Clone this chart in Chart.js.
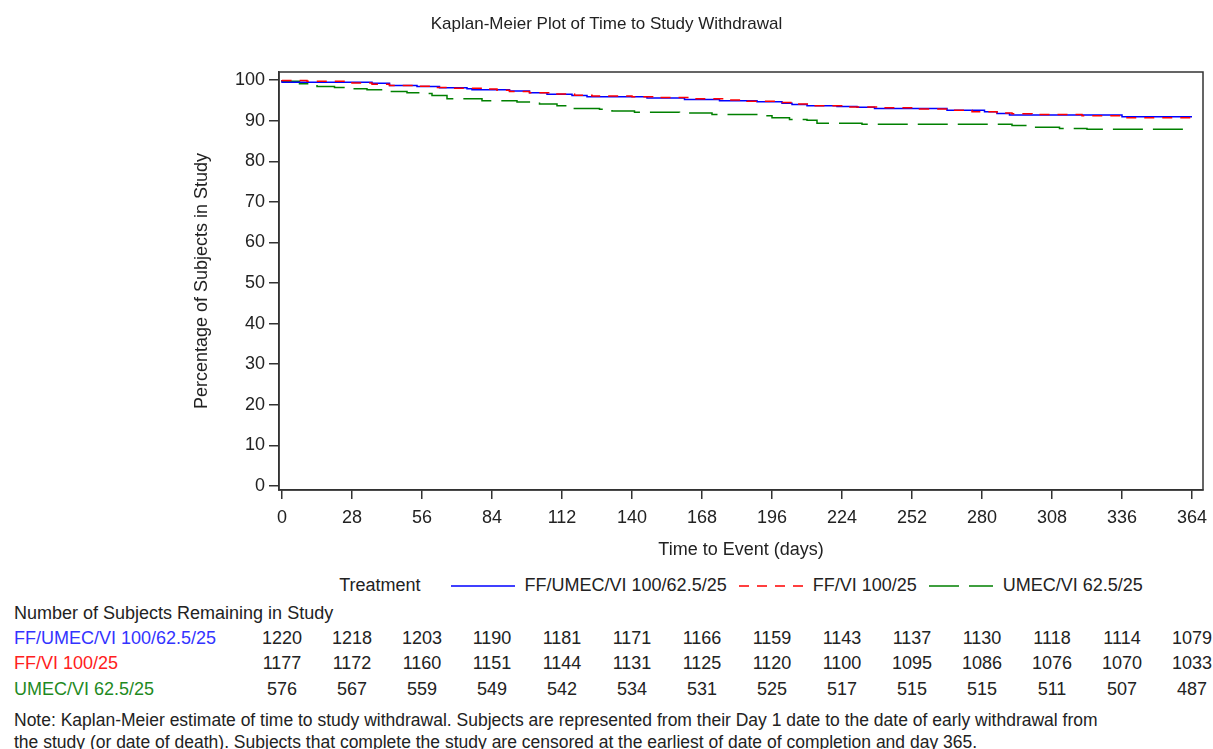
<!DOCTYPE html>
<html>
<head>
<meta charset="utf-8">
<script src="https://cdn.jsdelivr.net/npm/chart.js@4.4.1/dist/chart.umd.min.js"></script>
<style>
  body { margin: 0; background: #fff; overflow: hidden; font-family: 'Liberation Sans', Arial, sans-serif; color: #222; }
  #wrap { position: relative; width: 1213px; height: 749px; }
  #km { position: absolute; left: 0; top: 0; }
  #title { position: absolute; left: 0; width: 1213px; top: 13px; text-align: center; font-size: 17px; line-height: 22px; }
  .txt { position: absolute; font-size: 18px; line-height: 22px; white-space: nowrap; }
  .num { transform: translateX(-50%); }
  .note { font-size: 17.5px; }
  #legend { position: absolute; left: 279px; width: 924px; top: 575px; display: flex; justify-content: center; align-items: center; font-size: 18px; white-space: nowrap; }
  #legend svg { margin: 0 10px 0 12px; }
</style>
</head>
<body>
<div id="wrap">
  <canvas id="km" width="1213" height="562"></canvas>
  <div id="title">Kaplan-Meier Plot of Time to Study Withdrawal</div>
  <div id="legend"></div>
  <div id="table"></div>
</div>
<script>
const xTicks = [0, 28, 56, 84, 112, 140, 168, 196, 224, 252, 280, 308, 336, 364];
const yTicks = [0, 10, 20, 30, 40, 50, 60, 70, 80, 90, 100];
const groups = ["FF/UMEC/VI 100/62.5/25", "FF/VI 100/25", "UMEC/VI 62.5/25"];

// Kaplan-Meier steps (day, % remaining)
const blueDays = [0, 36, 43, 54, 63, 74, 76, 91, 99, 106, 116, 122, 146, 161, 175, 190, 200, 204, 210, 222, 230, 237, 266, 281, 286, 291, 336, 352, 364];
const blueSurv = [100, 99.5, 99.2, 98.7, 98.4, 98.1, 97.9, 97.6, 97.3, 96.9, 96.5, 96.2, 95.9, 95.6, 95.2, 94.9, 94.7, 94.3, 94.0, 93.7, 93.5, 93.3, 93.0, 92.6, 92.2, 91.8, 91.4, 91.0, 91.0];
const redDays = [0, 10, 28, 36, 43, 54, 60, 66, 80, 86, 91, 99, 108, 117, 124, 140, 150, 163, 177, 186, 198, 204, 212, 225, 240, 255, 268, 276, 286, 292, 300, 320, 335, 350, 364];
const redSurv = [100, 99.9, 99.7, 99.3, 99.0, 98.7, 98.5, 98.2, 98.0, 97.8, 97.5, 97.2, 96.9, 96.6, 96.3, 96.1, 95.9, 95.7, 95.4, 95.1, 94.8, 94.5, 94.1, 93.7, 93.4, 93.2, 92.9, 92.6, 92.2, 91.9, 91.7, 91.5, 91.2, 90.7, 90.7];
const greenDays = [0, 7, 14, 21, 28, 34, 42, 50, 57, 60, 66, 80, 94, 103, 110, 114, 127, 132, 141, 159, 172, 191, 196, 203, 210, 214, 232, 292, 300, 311, 322, 348, 364];
const greenSurv = [100, 99.7, 99.1, 98.4, 98.2, 97.9, 97.6, 97.2, 96.9, 96.7, 96.2, 95.4, 94.9, 94.6, 94.1, 93.7, 93.0, 92.8, 92.4, 92.1, 91.9, 91.5, 91.2, 90.7, 90.3, 90.1, 89.4, 89.1, 88.8, 88.4, 88.1, 87.9, 87.9];

const atRiskBlue = [1220, 1218, 1203, 1190, 1181, 1171, 1166, 1159, 1143, 1137, 1130, 1118, 1114, 1079];
const atRiskRed = [1177, 1172, 1160, 1151, 1144, 1131, 1125, 1120, 1100, 1095, 1086, 1076, 1070, 1033];
const atRiskGreen = [576, 567, 559, 549, 542, 534, 531, 525, 517, 515, 515, 511, 507, 487];

const lineColors = ["#0000ff", "#ff0000", "#008000"];
const textColors = ["#3333ff", "#ff2020", "#1f8a1f"];
const dashes = [[], [10, 8], [30, 10]];
const fontFamily = "'Liberation Sans', Arial, sans-serif";

function pts(days, surv) {
    return days.map((d, i) => ({x: d, y: surv[i]}));
}

const frame = {
    id: "frame",
    afterDraw(chart) {
        const {ctx, chartArea: a} = chart;
        ctx.save();
        ctx.strokeStyle = "#333";
        ctx.lineWidth = 1.5;
        ctx.strokeRect(a.left, a.top, a.right - a.left, a.bottom - a.top);
        ctx.restore();
    }
};

const chart = new Chart("km", {
    type: "line",
    data: {
        datasets: [
            {label: groups[0], data: pts(blueDays, blueSurv), borderColor: lineColors[0], borderDash: dashes[0], order: 1},
            {label: groups[1], data: pts(redDays, redSurv), borderColor: lineColors[1], borderDash: dashes[1], order: 0},
            {label: groups[2], data: pts(greenDays, greenSurv), borderColor: lineColors[2], borderDash: dashes[2], order: 2},
        ].map(d => Object.assign(d, {stepped: "after", pointRadius: 0, borderWidth: 1.5, fill: false})),
    },
    options: {
        responsive: false,
        animation: false,
        events: [],
        layout: { padding: { left: 187, right: 10, top: 72, bottom: 0 } },
        plugins: {
            legend: { display: false },
            tooltip: { enabled: false },
        },
        scales: {
            x: {
                type: "linear",
                min: -1.2,
                max: 368.4,
                afterBuildTicks: s => { s.ticks = xTicks.map(v => ({value: v})); },
                afterFit: s => { s.height = 72; s.paddingLeft = 0; s.paddingRight = 0; },
                grid: { drawOnChartArea: false, tickLength: 9, color: "#333", lineWidth: 1.5 },
                border: { color: "#333", width: 1.5 },
                ticks: { color: "#222", padding: 8, maxRotation: 0, font: { family: fontFamily, size: 18 } },
                title: { display: true, text: "Time to Event (days)", color: "#222", font: { family: fontFamily, size: 18 }, padding: { top: 4, bottom: 1 } },
            },
            y: {
                min: -1,
                max: 102,
                afterBuildTicks: s => { s.ticks = yTicks.map(v => ({value: v})); },
                afterFit: s => { s.width = 92; s.paddingTop = 0; s.paddingBottom = 0; },
                grid: { drawOnChartArea: false, tickLength: 10, color: "#333", lineWidth: 1.5 },
                border: { color: "#333", width: 1.5 },
                ticks: { color: "#222", padding: 4, font: { family: fontFamily, size: 18 } },
                title: { display: true, text: "Percentage of Subjects in Study", color: "#222", font: { family: fontFamily, size: 18 }, padding: { top: 4, bottom: 4 } },
            },
        },
    },
    plugins: [frame],
});

// legend row
const legend = document.getElementById("legend");
let html = '<span style="margin-right:18px">Treatment</span>';
groups.forEach((g, i) => {
    html += '<svg width="64" height="10"><line x1="0" y1="5" x2="64" y2="5" stroke="' + lineColors[i] +
        '" stroke-width="1.5" stroke-dasharray="' + (dashes[i].length ? dashes[i].join(",") : "none") + '"/></svg>' +
        '<span>' + g + '</span>';
});
legend.innerHTML = html;

// number at risk table, numbers centred on x ticks
const table = document.getElementById("table");
const rows = [atRiskBlue, atRiskRed, atRiskGreen];
const rowTop = [627, 652, 678];
let t = '<div class="txt" style="left:14px;top:602px">Number of Subjects Remaining in Study</div>';
rows.forEach((r, ri) => {
    t += '<div class="txt" style="left:14px;top:' + rowTop[ri] + 'px;color:' + textColors[ri] + '">' + groups[ri] + '</div>';
    r.forEach((n, i) => {
        const px = chart.scales.x.getPixelForValue(xTicks[i]);
        t += '<div class="txt num" style="left:' + px + 'px;top:' + rowTop[ri] + 'px">' + n + '</div>';
    });
});
t += '<div class="txt note" style="left:14px;top:709px">Note: Kaplan-Meier estimate of time to study withdrawal. Subjects are represented from their Day 1 date to the date of early withdrawal from</div>';
t += '<div class="txt note" style="left:14px;top:731px">the study (or date of death). Subjects that complete the study are censored at the earliest of date of completion and day 365.</div>';
table.innerHTML = t;
</script>
</body>
</html>
